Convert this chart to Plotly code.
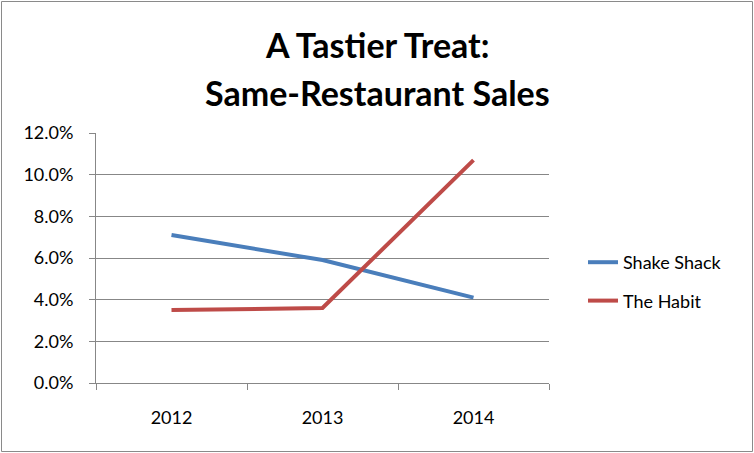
import plotly.graph_objects as go

years = ["2012", "2013", "2014"]
shake_shack = [0.071, 0.059, 0.041]
the_habit = [0.035, 0.036, 0.107]
series_names = ["Shake Shack", "The Habit"]
series_colors = ["#4A7EBB", "#BE4B48"]
title_lines = ["A Tastier Treat:", "Same-Restaurant Sales"]

W, H = 754, 453
L, R, T, B = 96, 205, 133, 70
pw, ph = W - L - R, H - T - B

FONT = "Lato"
GRID = "#878787"

fig = go.Figure()
for name, vals, col in zip(series_names, [shake_shack, the_habit], series_colors):
    fig.add_trace(go.Scatter(
        x=years, y=vals, mode="lines", name=name, legendgroup=name,
        line=dict(color=col, width=4),
    ))

def px_x(px):
    return (px - L) / pw

def px_y(py):
    return (H - B - py) / ph

annotations = []
for txt, cy in zip(title_lines, [45, 92]):
    annotations.append(dict(
        text="<b>%s</b>" % txt, xref="paper", yref="paper",
        x=px_x(377), y=px_y(cy), xanchor="center", yanchor="middle",
        showarrow=False, font=dict(family=FONT, size=34, color="#000000"),
    ))

fig.update_layout(
    width=W, height=H,
    margin=dict(l=L, r=R, t=T, b=B),
    paper_bgcolor="white", plot_bgcolor="white",
    font=dict(family=FONT, size=18, color="#000000"),
    showlegend=True,
    legend=dict(
        x=px_x(583), y=px_y(281.5), xanchor="left", yanchor="middle",
        font=dict(family=FONT, size=18, color="#000000"),
        tracegroupgap=12, bgcolor="rgba(0,0,0,0)",
    ),
    annotations=annotations,
    shapes=[dict(
        type="rect", xref="paper", yref="paper",
        x0=px_x(1.5), x1=px_x(752.5), y0=px_y(451.5), y1=px_y(1.5),
        line=dict(color="#8A8A8A", width=1), fillcolor="rgba(0,0,0,0)",
        layer="below",
    )],
    xaxis=dict(
        type="category", range=[-0.5, 2.5],
        showgrid=False, showline=True, linecolor=GRID, linewidth=1,
        ticks="outside", tickson="boundaries", ticklen=6, tickcolor=GRID,
        tickfont=dict(family=FONT, size=18), ticklabelstandoff=18,
        zeroline=False, fixedrange=True,
    ),
    yaxis=dict(
        range=[0, 0.12], dtick=0.02, tick0=0, tickformat=".1%",
        showgrid=True, gridcolor=GRID, gridwidth=1,
        showline=True, linecolor=GRID, linewidth=1,
        ticks="outside", ticklen=6, tickcolor=GRID,
        tickfont=dict(family=FONT, size=18), ticklabelstandoff=12,
        zeroline=False, fixedrange=True,
    ),
)

fig.write_html(
    "out.html",
    config={"displayModeBar": False},
    post_script="document.body.style.margin='0';document.body.style.padding='0';",
)
